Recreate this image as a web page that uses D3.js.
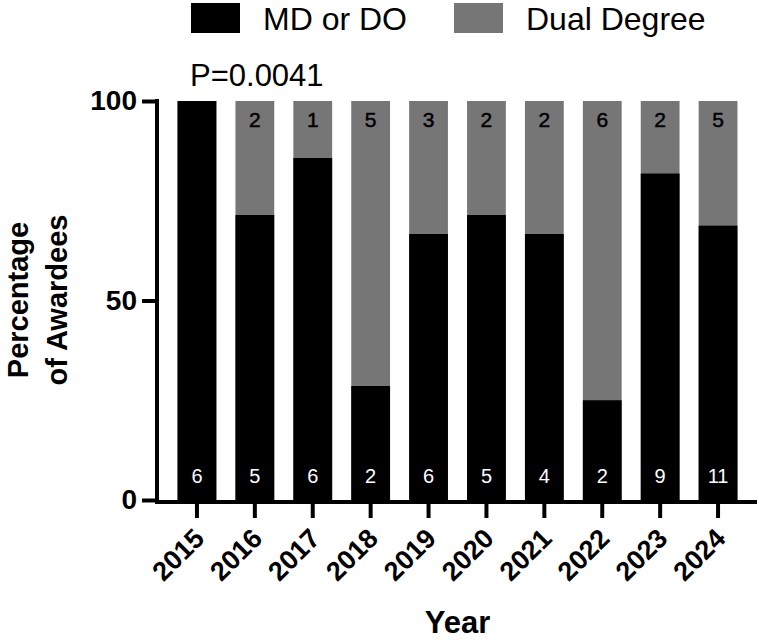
<!DOCTYPE html>
<html>
<head>
<meta charset="utf-8">
<script src="https://cdn.jsdelivr.net/npm/d3@7"></script>
<style>
  body { margin: 0; background: #fff; }
  svg { display: block; font-family: "Liberation Sans", Arial, sans-serif; }
</style>
</head>
<body>
<svg id="chart" width="759" height="641"></svg>
<script>
// data
const years = ['2015', '2016', '2017', '2018', '2019', '2020', '2021', '2022', '2023', '2024']
const mdCounts = [6, 5, 6, 2, 6, 5, 4, 2, 9, 11]
const dualCounts = [0, 2, 1, 5, 3, 2, 2, 6, 2, 5]
const yTicks = [0, 50, 100]
const seriesNames = ['MD or DO', 'Dual Degree']
const pValue = 'P=0.0041'

const COLORS = ['#000000', '#767676']

const svg = d3.select('#chart')

const x = d3.scaleBand().domain(years).range([168, 747])
  .paddingInner(0.33).paddingOuter(0.165)
const y = d3.scaleLinear().domain([0, 100]).range([500, 101])

const rows = years.map((yr, i) => {
  const total = mdCounts[i] + dualCounts[i]
  return { year: yr, md: mdCounts[i], dual: dualCounts[i], mdPct: 100 * mdCounts[i] / total }
})

// bars: gray full height (dual), black from 0 up to md share
const bars = svg.append('g')
bars.selectAll('.dual').data(rows).enter().append('rect')
  .attr('x', d => x(d.year))
  .attr('width', x.bandwidth())
  .attr('y', y(100))
  .attr('height', y(0) - y(100))
  .attr('fill', COLORS[1])
bars.selectAll('.md').data(rows).enter().append('rect')
  .attr('x', d => x(d.year))
  .attr('width', x.bandwidth())
  .attr('y', d => y(d.mdPct))
  .attr('height', d => y(0) - y(d.mdPct))
  .attr('fill', COLORS[0])

// count labels
bars.selectAll('.dl').data(rows.filter(d => d.dual > 0)).enter().append('text')
  .attr('x', d => x(d.year) + x.bandwidth() / 2)
  .attr('y', 127)
  .attr('text-anchor', 'middle')
  .attr('font-size', 21)
  .attr('fill', '#000')
  .attr('stroke', '#000').attr('stroke-width', 0.5)
  .text(d => d.dual)
bars.selectAll('.ml').data(rows).enter().append('text')
  .attr('x', d => x(d.year) + x.bandwidth() / 2)
  .attr('y', 483)
  .attr('text-anchor', 'middle')
  .attr('font-size', 20)
  .attr('fill', '#fff')
  .text(d => d.md)

// y axis
const yAxis = svg.append('g')
  .attr('transform', 'translate(157,0)')
  .call(d3.axisLeft(y).tickValues(yTicks).tickSize(15).tickPadding(5))
yAxis.select('.domain').remove()
yAxis.selectAll('line').attr('stroke', '#000').attr('stroke-width', 4)
yAxis.selectAll('text')
  .attr('font-size', 28).attr('font-weight', 'bold')
  .attr('font-family', '"Liberation Sans", Arial, sans-serif')
  .attr('fill', '#000')
svg.append('line')
  .attr('x1', 157).attr('x2', 157)
  .attr('y1', y(100) - 2).attr('y2', 504)
  .attr('stroke', '#000').attr('stroke-width', 4)

// x axis
const xAxis = svg.append('g')
  .attr('transform', 'translate(0,502)')
  .call(d3.axisBottom(x).tickSize(16).tickSizeOuter(0))
xAxis.select('.domain').remove()
xAxis.selectAll('line').attr('stroke', '#000').attr('stroke-width', 4)
xAxis.selectAll('text')
  .attr('font-size', 27).attr('font-weight', 'bold')
  .attr('font-family', '"Liberation Sans", Arial, sans-serif')
  .attr('fill', '#000')
  .attr('text-anchor', 'end')
  .attr('dy', null)
  .attr('y', 0)
  .attr('transform', 'translate(9,38) rotate(-45)')
svg.append('line')
  .attr('x1', 155).attr('x2', 757)
  .attr('y1', 502).attr('y2', 502)
  .attr('stroke', '#000').attr('stroke-width', 4)

// axis titles
svg.append('text')
  .attr('x', (168 + 747) / 2).attr('y', 633)
  .attr('text-anchor', 'middle')
  .attr('font-size', 31).attr('font-weight', 'bold')
  .text('Year')
const yTitle = svg.append('text')
  .attr('transform', 'translate(0,300) rotate(-90)')
  .attr('text-anchor', 'middle')
  .attr('font-size', 29).attr('font-weight', 'bold')
yTitle.append('tspan').attr('x', 0).attr('y', 28).text('Percentage')
yTitle.append('tspan').attr('x', 0).attr('y', 67).text('of Awardees')

// legend
const legend = svg.append('g')
const legendX = [191, 454]
seriesNames.forEach((name, i) => {
  legend.append('rect')
    .attr('x', legendX[i]).attr('y', 3)
    .attr('width', 49).attr('height', 30)
    .attr('fill', COLORS[i])
  legend.append('text')
    .attr('x', legendX[i] + 72).attr('y', 30)
    .attr('font-size', 32)
    .text(name)
})

svg.append('text')
  .attr('x', 190).attr('y', 86)
  .attr('font-size', 31)
  .text(pValue)
</script>
</body>
</html>
